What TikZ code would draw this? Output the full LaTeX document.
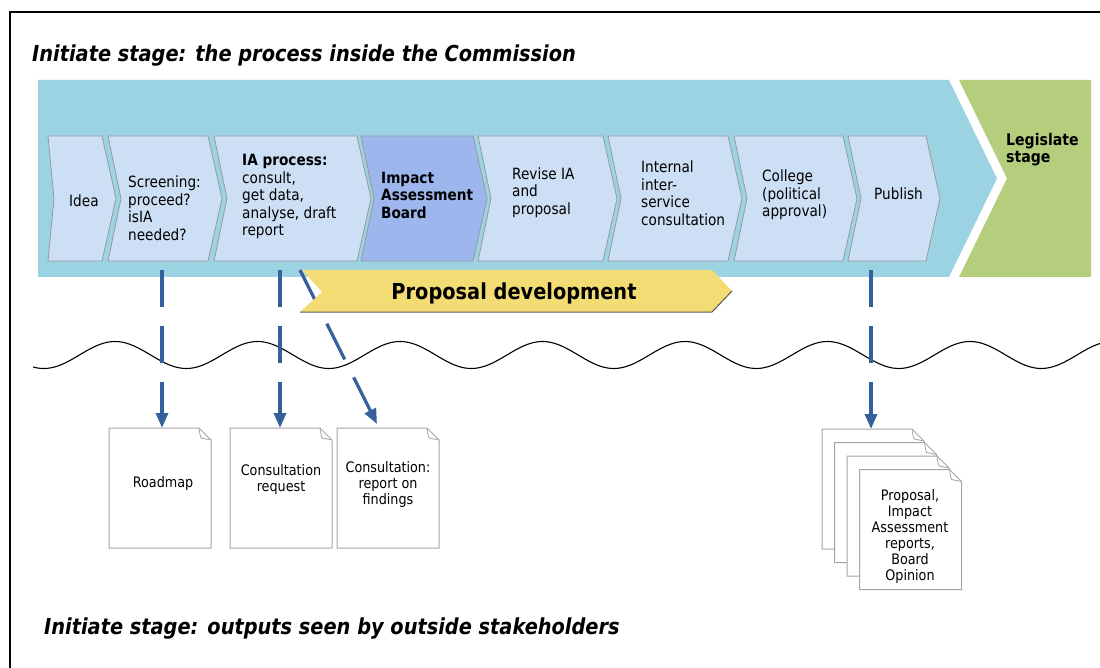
\documentclass[tikz,border=0pt]{standalone}
\usepackage{fontspec}
\setmainfont{DejaVu Sans}[FakeStretch=0.88,
  BoldFont=DejaVu Sans Bold, ItalicFont=DejaVu Sans Oblique,
  BoldItalicFont=DejaVu Sans Bold Oblique]
\usetikzlibrary{arrows.meta}

\definecolor{bandcyan}{RGB}{155,211,226}
\definecolor{stepblue}{RGB}{205,223,245}
\definecolor{boardblue}{RGB}{157,183,238}
\definecolor{legisgreen}{RGB}{181,206,126}
\definecolor{propyellow}{RGB}{243,220,115}
\definecolor{arrowblue}{RGB}{54,96,155}
\definecolor{docgray}{RGB}{165,165,165}

\begin{document}
\begin{tikzpicture}[x=1pt,y=-1pt,
    steptext/.style={font=\fontsize{15.5}{17.5}\selectfont, align=left, inner sep=0pt, anchor=west},
    doctext/.style={font=\fontsize{14.5}{16}\selectfont, align=center, inner sep=0pt},
    heading/.style={font=\fontsize{22}{26}\selectfont\bfseries\itshape, inner sep=0pt, anchor=west},
    outarrow/.style={draw=arrowblue, line width=3.3pt, dash pattern=on 37pt off 19pt,
      -{Triangle[length=15pt,width=12pt]}},
    docpage/.pic={
      \filldraw[fill=white, draw=docgray, line width=1pt]
        (0,0) -- (90,0) -- (102,12) -- (102,120) -- (0,120) -- cycle;
      \draw[docgray, line width=0.8pt] (90,0) .. controls (91,7) .. (92,10) -- (102,12);
    }]
  \useasboundingbox (0,0) rectangle (1100,668);
  \draw[line width=2pt] (10,668) -- (10,12) -- (1100,12);

  \node[heading] (inside) at (32,56) {Initiate stage: the process inside the Commission};
  \node[heading] (outside) at (44,629) {Initiate stage: outputs seen by outside stakeholders};

  % initiate band and legislate stage
  \fill[bandcyan] (38,80) -- (949,80) -- (997,178.5) -- (949,277) -- (38,277) -- cycle;
  \fill[legisgreen] (959,80) -- (1091,80) -- (1091,277) -- (959,277) -- (1007,178.5) -- cycle;
  \node[steptext, font=\fontsize{16}{17.5}\selectfont\bfseries] (legis) at (1006,149.5) {Legislate\\stage};

  % steps
  \foreach \xl/\xr/\nt/\col in {48/102/6/stepblue, 108/208/13/stepblue, 214/357/13/stepblue,
      361/473/13/boardblue, 478/603/13/stepblue, 608/728/13/stepblue, 734/843/13/stepblue,
      848/926/13/stepblue}
    \filldraw[fill=\col, draw=black!40, line width=0.8pt]
      (\xl,136) -- (\xr,136) -- (\xr+14,198.5) -- (\xr,261) -- (\xl,261) -- (\xl+\nt,198.5) -- cycle;

  \node[steptext] (idea) at (69,201) {Idea};
  \node[steptext] (screen) at (128,208) {Screening:\\proceed?\\isIA\\needed?};
  \node[steptext] (iaproc) at (242,196.5) {\textbf{IA process:}\\consult,\\get data,\\analyse, draft\\report};
  \node[steptext, font=\fontsize{15.5}{17.5}\selectfont\bfseries] (board) at (381,195) {Impact\\Assessment\\Board};
  \node[steptext] (revise) at (512,192.5) {Revise IA\\and\\proposal};
  \node[steptext] (isc) at (641,193) {Internal\\inter-\\service\\consultation};
  \node[steptext] (college) at (762,195) {College\\(political\\approval)};
  \node[steptext] (publish) at (874,194) {Publish};

  % boundary to the outside
  \draw[line width=1.1pt] plot[domain=33:1100, samples=300]
    (\x, {355-13.5*sin(2.5263*(\x-79.4))});

  \coordinate (screen-out) at (162,270);
  \coordinate (iaproc-out) at (280,270);
  \coordinate (iaproc-out2) at (300,270);
  \coordinate (publish-out) at (871,270);
  \coordinate (roadmap-in) at (162,428);
  \coordinate (consreq-in) at (280,428);
  \coordinate (consrep-in) at (377,424);
  \coordinate (docs-in) at (871,429);

  \draw[outarrow] (screen-out) -- (roadmap-in);
  \draw[outarrow] (iaproc-out) -- (consreq-in);
  \draw[outarrow, dash pattern=on 40pt off 20pt] (iaproc-out2) -- (consrep-in);
  \draw[outarrow] (publish-out) -- (docs-in);

  % proposal development
  \fill[propyellow] (302,270) -- (712,270) -- (732,291) -- (712,312) -- (300,312) -- (322,292) -- cycle;
  \draw[black!65, line width=1pt] (300,312) -- (712,312) -- (732,291);
  \node[font=\fontsize{22}{26}\selectfont\bfseries, inner sep=0pt] (propdev) at (514,293) {Proposal development};

  % outputs
  \pic at (109,428) {docpage};
  \pic at (230,428) {docpage};
  \pic at (337,428) {docpage};
  \foreach \i in {0,...,3}
    \pic at (822+12.5*\i,429+13.5*\i) {docpage};

  \node[doctext] (roadmap) at (163,483) {Roadmap};
  \node[doctext] (consreq) at (281,479) {Consultation\\request};
  \node[doctext] (consrep) at (388,484) {Consultation:\\report on\\findings};
  \node[doctext] (docs) at (910,536) {Proposal,\\Impact\\Assessment\\reports,\\Board\\Opinion};
\end{tikzpicture}
\end{document}
